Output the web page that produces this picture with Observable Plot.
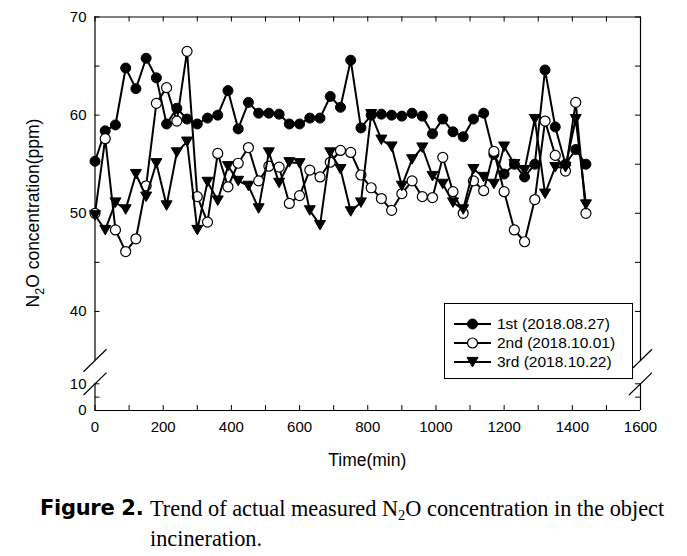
<!DOCTYPE html>
<html><head><meta charset="utf-8">
<script src="https://cdn.jsdelivr.net/npm/d3@7"></script>
<script src="https://cdn.jsdelivr.net/npm/@observablehq/plot@0.6"></script>
<style>
body{margin:0;background:#fff;}
#wrap{position:relative;width:687px;height:556px;overflow:hidden;font-family:"Liberation Sans",Arial,sans-serif;background:#fff;}
#chart{position:absolute;left:0;top:0;}
#legend{position:absolute;left:444px;top:303px;width:189px;height:76px;border:1px solid #000;box-sizing:border-box;background:#fff;}
.lrow{position:absolute;left:0;height:18px;display:flex;align-items:center;font-size:15.5px;color:#000;white-space:nowrap;}
.lrow svg{margin-left:9px;margin-right:6px;}
#caption{position:absolute;left:0;top:495px;width:687px;color:#000;}
#caption .fig{position:absolute;left:40px;top:1px;font-family:"DejaVu Sans",sans-serif;font-weight:bold;font-size:21px;letter-spacing:-0.3px;}
#caption .txt{position:absolute;left:150px;top:0;font-family:"Liberation Serif","Times New Roman",serif;font-size:22.3px;line-height:27px;white-space:nowrap;}
#caption sub{font-size:14.5px;vertical-align:baseline;position:relative;top:4px;}
</style></head><body>
<div id="wrap">
<div id="chart"></div>
<div id="legend"></div>
<div id="caption"><span class="fig">Figure 2.</span><div class="txt">Trend of actual measured N<sub>2</sub>O concentration in the object<br>incineration.</div></div>
</div>
<script>
const times = [0,30,60,90,120,150,180,210,240,270,300,330,360,390,420,450,480,510,540,570,600,630,660,690,720,750,780,810,840,870,900,930,960,990,1020,1050,1080,1110,1140,1170,1200,1230,1260,1290,1320,1350,1380,1410,1440];
const series1 = [55.3,58.4,59.0,64.8,62.7,65.8,63.8,59.1,60.7,59.6,59.1,59.7,60.0,62.5,58.6,61.3,60.2,60.2,60.1,59.1,59.1,59.7,59.7,61.9,60.8,65.6,58.7,60.0,60.1,60.0,59.9,60.2,59.9,58.1,59.6,58.3,57.8,59.6,60.2,56.0,54.0,55.0,53.7,55.0,64.6,58.8,55.0,56.5,55.0];
const series2 = [50.0,57.6,48.3,46.1,47.4,52.8,61.2,62.8,59.4,66.5,51.7,49.1,56.1,52.7,55.1,56.7,53.3,54.8,54.7,51.0,51.8,54.4,53.7,55.2,56.4,56.2,53.9,52.6,51.5,50.3,52.0,53.3,51.7,51.6,55.7,52.2,50.0,53.3,52.3,56.3,52.2,48.3,47.1,51.4,59.4,55.9,54.3,61.3,50.0];
const series3 = [49.8,48.3,51.1,50.4,54.0,51.7,55.1,50.8,56.2,57.3,48.3,53.2,51.3,54.8,53.3,52.8,50.5,56.2,53.1,55.2,55.1,50.3,48.8,56.2,54.5,50.2,51.1,60.1,57.5,56.8,52.8,55.5,56.7,53.8,53.0,51.1,50.4,54.5,53.7,53.0,56.8,55.0,54.4,59.6,52.0,54.7,54.7,59.6,50.9];
const seriesNames = ["1st (2018.08.27)","2nd (2018.10.01)","3rd (2018.10.22)"];
const xTickLabels = [0,200,400,600,800,1000,1200,1400,1600];
const xMinorTicks = [0,100,200,300,400,500,600,700,800,900,1000,1100,1200,1300,1400,1500,1600];
const yTickLabels = [0,10,40,50,60,70];
const yMinorTicks = [0,5,10,40,45,50,55,60,65,70];
const yBreaks = [10,35];
const xDomain = [0,1600];
const yDomain = [0,10,35,70];
const xTitle = "Time(min)";

const W = 687, H = 470;
const mL = 94.5, mR = 47, mT = 16.5, mB = 60;
const frameW = W - mL - mR, frameH = H - mT - mB;
const tickLen = 5;
// broken y axis: piecewise mapping of values to a continuous position (in px above the bottom)
const yBreakMap = d3.scaleLinear().domain(yDomain).range([0, 26.7, 50, frameH]);

const triDown = {draw(ctx){ctx.moveTo(-5.5,-4.6);ctx.lineTo(5.5,-4.6);ctx.lineTo(0,4.9);ctx.closePath();}};
const slash = {draw(ctx){ctx.moveTo(-11.5,11.2);ctx.lineTo(11.5,-11.2);}};

const rows = (vals) => times.map((t,i)=>({t, v: vals[i]}));
const d1 = rows(series1), d2 = rows(series2), d3s = rows(series3);
const breakPts = [];
for (const x of xDomain) for (const y of yBreaks) breakPts.push({x,y});

const lineOpts = {x:"t", y:"v", stroke:"#000", strokeWidth:2};
const chart = Plot.plot({
  width: W, height: H,
  marginLeft: mL, marginRight: mR, marginTop: mT, marginBottom: mB,
  style: {fontFamily: "'Liberation Sans', Arial, sans-serif", fontSize: "15px", background: "#fff", color: "#000"},
  x: {domain: xDomain, axis: null},
  y: {transform: v => yBreakMap(v), axis: null},
  marks: [
    // frame segments
    Plot.ruleY([yDomain[3]], {stroke:"#000", strokeWidth:1.2}),
    Plot.ruleY([yDomain[0]], {stroke:"#000", strokeWidth:1.2}),
    Plot.ruleX(xDomain, {y1: yDomain[2], y2: yDomain[3], stroke:"#000", strokeWidth:1.2}),
    Plot.ruleX(xDomain, {y1: yDomain[0], y2: yDomain[1], stroke:"#000", strokeWidth:1.2}),
    // inward ticks
    Plot.tickY(yMinorTicks, {y: d=>d, insetRight: frameW - tickLen, stroke:"#000"}),
    Plot.tickY(yMinorTicks, {y: d=>d, insetLeft: frameW - tickLen, stroke:"#000"}),
    Plot.tickX(xMinorTicks, {x: d=>d, insetTop: frameH - tickLen, stroke:"#000"}),
    Plot.tickX(xMinorTicks, {x: d=>d, insetBottom: frameH - tickLen, stroke:"#000"}),
    // tick labels
    Plot.axisY(yTickLabels, {anchor:"left", tickSize:0, tickPadding:8.5, label:null, fill:"#000", tickFormat: d => String(d)}),
    Plot.axisX(xTickLabels, {anchor:"bottom", tickSize:0, tickPadding:11, label:null, fill:"#000", tickFormat: d => String(d)}),
    // axis break slashes
    Plot.dot(breakPts, {x:"x", y:"y", symbol: slash, r: 5, fill:"none", stroke:"#000", strokeWidth:1.2}),
    // series
    Plot.line(d1, lineOpts),
    Plot.dot(d1, {x:"t", y:"v", r:5, fill:"#000", stroke:"#000", strokeWidth:1}),
    Plot.line(d2, lineOpts),
    Plot.dot(d2, {x:"t", y:"v", r:5, fill:"#fff", stroke:"#000", strokeWidth:1.2}),
    Plot.line(d3s, lineOpts),
    Plot.dot(d3s, {x:"t", y:"v", symbol: triDown, r:5, fill:"#000", stroke:"#000", strokeWidth:1})
  ]
});
document.getElementById("chart").appendChild(chart);

// axis titles
const svg = d3.select(chart);
svg.append("text").attr("x", (mL + W - mR)/2).attr("y", 466).attr("text-anchor","middle")
  .attr("font-size", 17.5).attr("fill","#000").text(xTitle);
const yl = svg.append("text").attr("transform","translate(39,213) rotate(-90)")
  .attr("text-anchor","middle").attr("font-size",17.5).attr("fill","#000");
yl.append("tspan").text("N");
yl.append("tspan").attr("dy",5).attr("font-size",12.5).text("2");
yl.append("tspan").attr("dy",-5).text("O concentration(ppm)");

// legend
const legend = document.getElementById("legend");
const legendSymbols = [
  '<circle cx="18.5" cy="9" r="5" fill="#000" stroke="#000"/>',
  '<circle cx="18.5" cy="9" r="5" fill="#fff" stroke="#000" stroke-width="1.2"/>',
  '<path d="M13,4.4L24,4.4L18.5,13.9Z" fill="#000" stroke="#000"/>'
];
seriesNames.forEach((name,i)=>{
  const r = document.createElement("div");
  r.className = "lrow";
  r.style.top = (11 + i*19) + "px";
  r.innerHTML = '<svg width="37" height="18"><line x1="0" x2="37" y1="9" y2="9" stroke="#000" stroke-width="2"/>' + legendSymbols[i] + '</svg><span>' + name + '</span>';
  legend.appendChild(r);
});
</script>
</body></html>
